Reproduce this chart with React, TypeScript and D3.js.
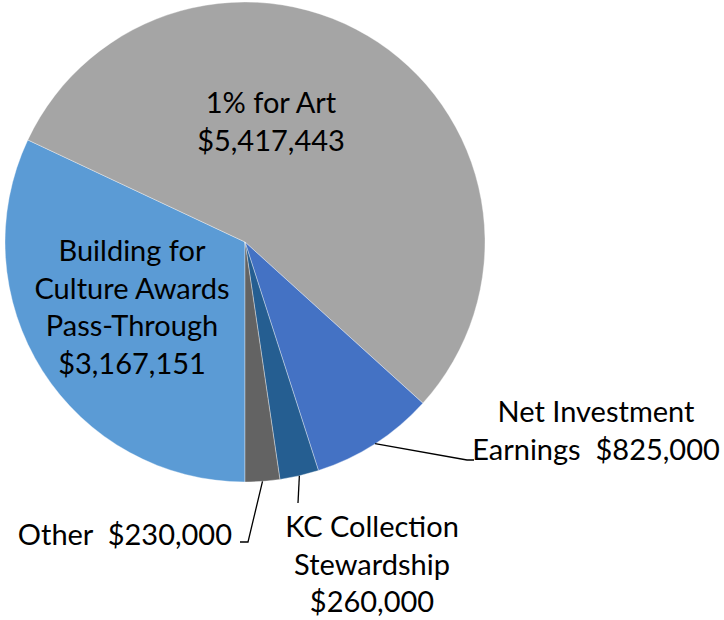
import React from "react";
import * as d3 from "d3";

const categories = [
  "Building for Culture Awards Pass-Through",
  "1% for Art",
  "Net Investment Earnings",
  "KC Collection Stewardship",
  "Other",
];
const values = [3167151, 5417443, 825000, 260000, 230000];
const colors = ["#5B9BD5", "#A5A5A5", "#4472C4", "#255E91", "#636363"];
const labelLines = [
  ["Building for", "Culture Awards", "Pass-Through", "$3,167,151"],
  ["1% for Art", "$5,417,443"],
  ["Net Investment", "Earnings  $825,000"],
  ["KC Collection", "Stewardship", "$260,000"],
  ["Other  $230,000"],
];

const W = 724;
const H = 620;
const cx = 245;
const cy = 242;
const R = 240;
const FONT = "Lato, 'Open Sans', sans-serif";
const FS = 29;
const LH = 37.5;

export default function App() {
  const pie = d3
    .pie<number>()
    .sort(null)
    .startAngle(Math.PI)
    .endAngle(3 * Math.PI)
    .value((d) => d);
  const arcs = pie(values);
  const arc = d3.arc<d3.PieArcDatum<number>>().innerRadius(0).outerRadius(R);

  const edge = (a: d3.PieArcDatum<number>) => {
    const m = (a.startAngle + a.endAngle) / 2;
    return [cx + R * Math.sin(m), cy - R * Math.cos(m)];
  };

  // label layout: [anchor x, first baseline y, text-anchor]
  const labelPos: [number, number, string][] = [
    [132, 261, "middle"],
    [271, 113, "middle"],
    [596, 422, "middle"],
    [372, 537, "middle"],
    [232, 545, "end"],
  ];
  // leader line elbows
  const leaders: ([number, number][] | null)[] = [
    null,
    null,
    [[467, 460], [474, 460]],
    [[298, 503]],
    [[248, 542], [240, 542]],
  ];

  return (
    <svg width={W} height={H} style={{ position: "absolute", left: 0, top: 0 }}>
      <rect width={W} height={H} fill="#fff" />
      <g transform={`translate(${cx},${cy})`}>
        {arcs.map((a, i) => (
          <path key={i} d={arc(a) || ""} fill={colors[i]} stroke="#fff" strokeWidth={0.6} strokeOpacity={0.6} />
        ))}
      </g>
      {arcs.map((a, i) => {
        const l = leaders[i];
        if (!l) return null;
        const s = edge(a);
        const pts = [s, ...l];
        return (
          <path
            key={"l" + i}
            d={d3.line()(pts as [number, number][]) || ""}
            fill="none"
            stroke="#000"
            strokeWidth={1.3}
          />
        );
      })}
      {labelLines.map((lines, i) => (
        <text
          key={"t" + i}
          x={labelPos[i][0]}
          y={labelPos[i][1]}
          textAnchor={labelPos[i][2] as any}
          fontFamily={FONT}
          fontSize={FS}
          fill="#000"
          style={{ whiteSpace: "pre" }}
        >
          {lines.map((t, j) => (
            <tspan key={j} x={labelPos[i][0]} dy={j === 0 ? 0 : LH}>
              {t}
            </tspan>
          ))}
        </text>
      ))}
    </svg>
  );
}
